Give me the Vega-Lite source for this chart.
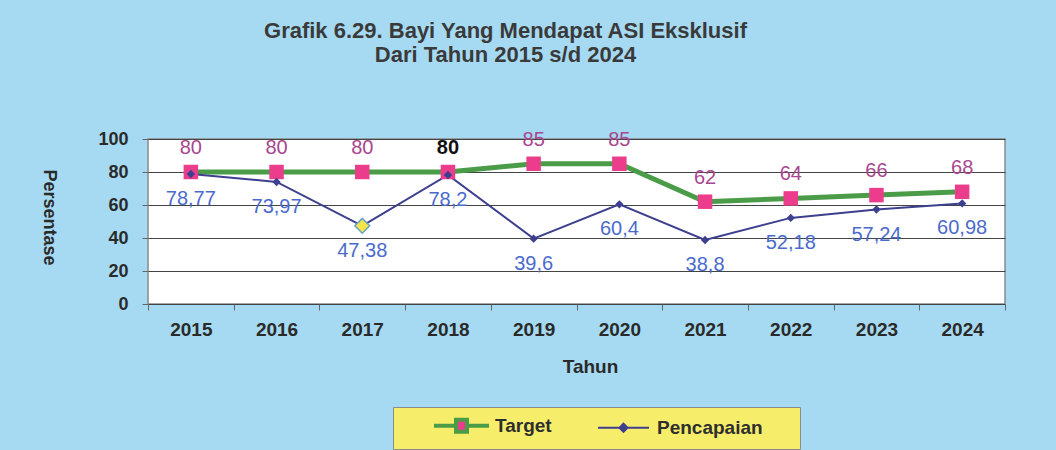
{
  "$schema": "https://vega.github.io/schema/vega-lite/v6.json",
  "width": 857,
  "height": 165,
  "autosize": {"type": "none"},
  "padding": {"left": 148, "top": 139, "right": 51, "bottom": 146},
  "background": "#a6daf2",
  "title": {
    "text": ["Grafik 6.29. Bayi Yang Mendapat ASI Eksklusif", "Dari Tahun 2015 s/d 2024"],
    "font": "Liberation Sans",
    "fontSize": 22,
    "fontWeight": "bold",
    "color": "#3a3a3a",
    "lineHeight": 24,
    "anchor": "middle",
    "dx": -71,
    "offset": 63
  },
  "config": {
    "locale": {"number": {"decimal": ",", "thousands": ".", "grouping": [3], "currency": ["", ""]}},
    "view": {"stroke": "#8a8a8a", "fill": "white", "strokeWidth": 1.5},
    "font": "Liberation Sans"
  },
  "data": {
    "values": [
      {"year": "2015", "series": "Target", "value": 80},
      {"year": "2016", "series": "Target", "value": 80},
      {"year": "2017", "series": "Target", "value": 80},
      {"year": "2018", "series": "Target", "value": 80},
      {"year": "2019", "series": "Target", "value": 85},
      {"year": "2020", "series": "Target", "value": 85},
      {"year": "2021", "series": "Target", "value": 62},
      {"year": "2022", "series": "Target", "value": 64},
      {"year": "2023", "series": "Target", "value": 66},
      {"year": "2024", "series": "Target", "value": 68},
      {"year": "2015", "series": "Pencapaian", "value": 78.77},
      {"year": "2016", "series": "Pencapaian", "value": 73.97},
      {"year": "2017", "series": "Pencapaian", "value": 47.38},
      {"year": "2018", "series": "Pencapaian", "value": 78.2},
      {"year": "2019", "series": "Pencapaian", "value": 39.6},
      {"year": "2020", "series": "Pencapaian", "value": 60.4},
      {"year": "2021", "series": "Pencapaian", "value": 38.8},
      {"year": "2022", "series": "Pencapaian", "value": 52.18},
      {"year": "2023", "series": "Pencapaian", "value": 57.24},
      {"year": "2024", "series": "Pencapaian", "value": 60.98}
    ]
  },
  "encoding": {
    "x": {
      "field": "year",
      "type": "ordinal",
      "scale": {"type": "band", "paddingInner": 0, "paddingOuter": 0},
      "axis": {
        "title": "Tahun",
        "labelAngle": 0,
        "labelFont": "Liberation Sans",
        "labelFontSize": 19,
        "labelFontWeight": "bold",
        "labelColor": "#2a2a2a",
        "labelPadding": 10,
        "tickBand": "extent",
        "tickSize": 6,
        "tickColor": "#666",
        "domain": false,
        "grid": false,
        "titleFont": "Liberation Sans",
        "titleFontSize": 19,
        "titleFontWeight": "bold",
        "titleColor": "#2a2a2a",
        "titleX": 442,
        "titleY": 62,
        "titleBaseline": "middle",
        "titleAlign": "center"
      }
    },
    "y": {
      "field": "value",
      "type": "quantitative",
      "scale": {"domain": [0, 100], "nice": false},
      "axis": {
        "title": "Persentase",
        "values": [0, 20, 40, 60, 80, 100],
        "labelFont": "Liberation Sans",
        "labelFontSize": 18,
        "labelFontWeight": "bold",
        "labelColor": "#2a2a2a",
        "labelPadding": 14,
        "tickSize": 6,
        "tickColor": "#666",
        "domain": false,
        "grid": true,
        "gridColor": "#444",
        "gridWidth": 1,
        "titleFont": "Liberation Sans",
        "titleFontSize": 18,
        "titleFontWeight": "bold",
        "titleColor": "#2a2a2a",
        "titleAngle": 90,
        "titleX": -100,
        "titleY": 78,
        "titleBaseline": "middle",
        "titleAlign": "center"
      }
    }
  },
  "layer": [
    {
      "mark": {"type": "line"},
      "encoding": {
        "stroke": {
          "field": "series",
          "type": "nominal",
          "sort": ["Target", "Pencapaian"],
          "scale": {"range": ["#4b9c48", "#3d3f8f"]},
          "legend": {
            "orient": "none",
            "legendX": 245,
            "legendY": 268,
            "direction": "horizontal",
            "title": "xx",
            "titleOrient": "right",
            "titleOpacity": 0,
            "titleFontSize": 12,
            "titlePadding": 14,
            "symbolType": "M-5.5,0H5.5",
            "symbolSize": 100,
            "symbolStrokeWidth": 4,
            "symbolOffset": 50,
            "labelOffset": 24,
            "labelFont": "Liberation Sans",
            "labelFontSize": 19,
            "labelFontWeight": "bold",
            "labelColor": "#2e2e2e",
            "fillColor": "#f6ee6a",
            "strokeColor": "#8a8a8a",
            "padding": 9,
            "columnPadding": 12,
            "encode": {
              "symbols": {
                "update": {
                  "strokeWidth": {"signal": "datum.value === 'Target' ? 4 : 2"},
                  "fill": {"signal": "datum.value === 'Target' ? '#ec3d8c' : '#3d3f8f'"},
                  "fillOpacity": {"value": 1},
                  "shape": {"signal": "datum.value === 'Target' ? 'M-5.5,0H-1.1M1.1,0H5.5M-1.1,-1.2H1.1V1.2H-1.1Z' : 'M-5.1,0H5.1M0,-0.8L0.8,0L0,0.8L-0.8,0Z'"}
                }
              }
            }
          }
        },
        "strokeWidth": {
          "field": "series",
          "type": "nominal",
          "scale": {"domain": ["Target", "Pencapaian"], "range": [5, 2]},
          "legend": null
        }
      }
    },
    {
      "mark": {"type": "point", "filled": true, "opacity": 1},
      "encoding": {
        "fill": {
          "field": "series",
          "type": "nominal",
          "scale": {"domain": ["Target", "Pencapaian"], "range": ["#ec3d8c", "#3d3f8f"]},
          "legend": null
        },
        "shape": {
          "field": "series",
          "type": "nominal",
          "scale": {"domain": ["Target", "Pencapaian"], "range": ["square", "diamond"]},
          "legend": null
        },
        "size": {
          "field": "series",
          "type": "nominal",
          "scale": {"domain": ["Target", "Pencapaian"], "range": [210, 70]},
          "legend": null
        }
      }
    },
    {
      "transform": [{"filter": "datum.series == 'Pencapaian' && datum.year == '2017'"}],
      "mark": {"type": "point", "shape": "diamond", "filled": true, "fill": "#f3e64a", "stroke": "#6aa0c8", "strokeWidth": 1.5, "size": 220, "opacity": 1},
      "encoding": {}
    },
    {
      "transform": [{"filter": "datum.series == 'Target' && datum.year != '2018'"}],
      "mark": {"type": "text", "dy": -24, "fontSize": 20, "font": "Liberation Sans", "baseline": "middle", "color": "#a8478f"},
      "encoding": {
        "text": {"field": "value", "type": "quantitative", "format": "~r"}
      }
    },
    {
      "transform": [{"filter": "datum.series == 'Target' && datum.year == '2018'"}],
      "mark": {"type": "text", "dy": -24, "fontSize": 20, "fontWeight": "bold", "font": "Liberation Sans", "baseline": "middle", "color": "#111111"},
      "encoding": {
        "text": {"field": "value", "type": "quantitative", "format": "~r"}
      }
    },
    {
      "transform": [{"filter": "datum.series == 'Pencapaian'"}],
      "mark": {"type": "text", "dy": 25, "fontSize": 20, "font": "Liberation Sans", "baseline": "middle", "color": "#4a6bcc"},
      "encoding": {
        "text": {"field": "value", "type": "quantitative", "format": "~r"}
      }
    }
  ]
}
